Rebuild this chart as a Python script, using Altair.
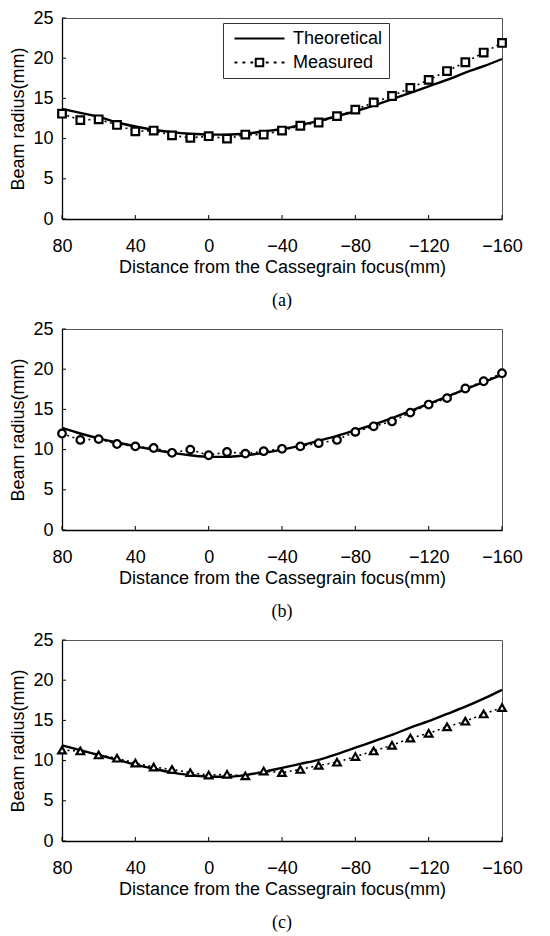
import altair as alt
import pandas as pd

# ---------------- data ----------------
x_pos = [80, 70, 60, 50, 40, 30, 20, 10, 0, -10, -20, -30, -40, -50, -60,
         -70, -80, -90, -100, -110, -120, -130, -140, -150, -160]

a_theory = [13.7, 13.2, 12.7, 12.0, 11.5, 11.1, 10.8, 10.6, 10.5, 10.5, 10.6, 10.9,
            11.2, 11.7, 12.2, 12.8, 13.4, 14.1, 14.9, 15.7, 16.5, 17.3, 18.2, 19.0, 19.9]
a_meas = [13.1, 12.3, 12.4, 11.7, 10.9, 11.0, 10.4, 10.1, 10.3, 10.0, 10.5, 10.5,
          11.0, 11.6, 12.0, 12.8, 13.6, 14.5, 15.3, 16.3, 17.3, 18.4, 19.5, 20.7, 21.9]

b_theory = [12.7, 12.0, 11.4, 10.9, 10.4, 10.0, 9.6, 9.3, 9.1, 9.1, 9.3, 9.6,
            10.0, 10.5, 11.1, 11.7, 12.4, 13.1, 13.9, 14.8, 15.7, 16.6, 17.5, 18.4, 19.3]
b_meas = [12.0, 11.2, 11.3, 10.7, 10.4, 10.2, 9.6, 10.0, 9.3, 9.7, 9.5, 9.8,
          10.1, 10.4, 10.8, 11.2, 12.2, 12.9, 13.5, 14.6, 15.6, 16.4, 17.6, 18.5, 19.5]

c_theory = [11.9, 11.3, 10.7, 10.1, 9.5, 9.0, 8.5, 8.2, 8.0, 8.0, 8.2, 8.6,
            9.1, 9.6, 10.1, 10.8, 11.6, 12.4, 13.2, 14.1, 14.9, 15.8, 16.7, 17.7, 18.8]
c_meas = [11.3, 11.2, 10.7, 10.3, 9.7, 9.2, 8.9, 8.5, 8.2, 8.3, 8.1, 8.7,
          8.5, 8.9, 9.4, 9.8, 10.5, 11.2, 11.9, 12.8, 13.4, 14.2, 14.9, 15.8, 16.6]

x_ticks = [80, 40, 0, -40, -80, -120, -160]
y_ticks = [0, 5, 10, 15, 20, 25]
series_names = ["Theoretical", "Measured"]
captions = ["(a)", "(b)", "(c)"]

# ---------------- styling ----------------
W, H = 440, 201
FONT = "Liberation Sans"

legend_paths = [
    "M-3,0H3",
    "M-3,0H-2.65M-2.05,0H-1.7M-1.1,0H-0.75"
    "M-0.45,-0.45H0.45V0.45H-0.45Z"
    "M0.75,0H1.1M1.7,0H2.05M2.65,0H3",
]


def panel(theory, meas, shape, caption, with_legend=False):
    df_t = pd.DataFrame({"x": x_pos, "y": theory})
    df_m = pd.DataFrame({"x": x_pos, "y": meas})
    xs = alt.Scale(domain=[-160, 80], reverse=True, nice=False, zero=False)
    ys = alt.Scale(domain=[0, 25], nice=False)
    xenc = alt.X("x:Q", scale=xs,
                 axis=alt.Axis(values=x_ticks, title="Distance from the Cassegrain focus(mm)",
                               labelPadding=18, titlePadding=3, labelFlush=False))
    yenc = alt.Y("y:Q", scale=ys,
                 axis=alt.Axis(values=y_ticks, title="Beam radius(mm)",
                               labelPadding=9, titlePadding=5, labelFlush=False))

    theory_line = alt.Chart(df_t).mark_line(
        color="black", strokeWidth=2.4, interpolate="monotone"
    ).encode(x=xenc, y=yenc)
    meas_line = alt.Chart(df_m).mark_line(
        color="black", strokeWidth=1.6, strokeDash=[2, 3.5]
    ).encode(x=xenc, y=yenc)
    meas_pts = alt.Chart(df_m).mark_point(
        shape=shape, filled=True, fill="white", stroke="black",
        strokeWidth=2.2, size=58, opacity=1
    ).encode(x=xenc, y=yenc)

    xt = alt.Chart(pd.DataFrame({"x": x_ticks})).mark_rule(
        color="black", strokeWidth=1
    ).encode(x=xenc, y=alt.value(H), y2=alt.value(H - 4))
    yt = alt.Chart(pd.DataFrame({"y": y_ticks})).mark_rule(
        color="black", strokeWidth=1
    ).encode(y=yenc, x=alt.value(0), x2=alt.value(4))

    layers = [xt, yt, theory_line, meas_line, meas_pts]

    if with_legend:
        leg_df = pd.DataFrame({"s": series_names})
        leg = alt.Chart(leg_df).mark_point(filled=False, opacity=0).encode(
            shape=alt.Shape(
                "s:N",
                scale=alt.Scale(domain=series_names, range=legend_paths),
                legend=alt.Legend(
                    title=None, orient="none", legendX=161, legendY=5,
                    symbolSize=278, symbolOpacity=1, symbolStrokeColor="black",
                    symbolFillColor="transparent", symbolStrokeWidth=2,
                    symbolOffset=21,
                    labelFontSize=18, labelFont=FONT, labelColor="black",
                    labelOffset=24, rowPadding=5, padding=6,
                    strokeColor="#333", fillColor="white",
                ),
            )
        )
        layers.append(leg)

    return alt.layer(*layers).properties(
        width=W, height=H,
        title=alt.TitleParams(caption, orient="bottom", font="Liberation Serif",
                              fontSize=18, fontWeight="normal", color="black",
                              offset=16),
    )


pa = panel(a_theory, a_meas, "square", captions[0], with_legend=True)
pb = panel(b_theory, b_meas, "circle", captions[1])
pc = panel(c_theory, c_meas, "triangle-up", captions[2])

chart = alt.vconcat(pa, pb, pc, spacing=8).properties(
    padding={"left": 1, "top": 0, "right": 5, "bottom": 0},
    background="white",
).configure_view(
    stroke="#555", strokeWidth=1
).configure_axis(
    grid=False, ticks=False, domainColor="black", domainWidth=1.3,
    labelFont=FONT, labelFontSize=18, labelColor="black",
    titleFont=FONT, titleFontSize=18, titleFontWeight="normal", titleColor="black",
)

chart.save("out.html", embed_options={"renderer": "svg", "actions": False})
